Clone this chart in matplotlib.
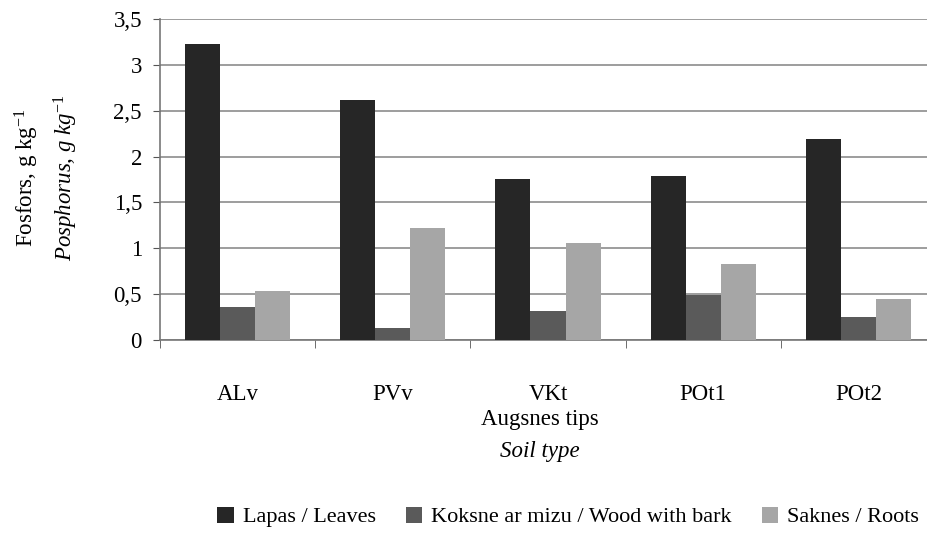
import matplotlib
matplotlib.use("Agg")
import matplotlib.pyplot as plt
import numpy as np

categories = ["ALv", "PVv", "VKt", "POt1", "POt2"]
series_names = ["Lapas / Leaves", "Koksne ar mizu / Wood with bark", "Saknes / Roots"]
leaves = [3.23, 2.62, 1.76, 1.79, 2.19]
wood = [0.36, 0.13, 0.32, 0.49, 0.25]
roots = [0.53, 1.22, 1.06, 0.83, 0.45]
yticks = [0, 0.5, 1, 1.5, 2, 2.5, 3, 3.5]
ytick_labels = ["0", "0,5", "1", "1,5", "2", "2,5", "3", "3,5"]
colors = ["#262626", "#5a5a5a", "#a6a6a6"]

plt.rcParams['font.family'] = ['Liberation Serif', 'DejaVu Serif']
plt.rcParams['mathtext.fontset'] = 'custom'
plt.rcParams['mathtext.rm'] = 'Liberation Serif'
plt.rcParams['mathtext.it'] = 'Liberation Serif:italic'

FS = 16.5

fig = plt.figure(figsize=(9.28, 5.35), dpi=100)
ax = fig.add_axes([160/928, 195/535, 776/928, 321/535])

x = np.arange(len(categories))
w = 0.226
for i, (vals, name) in enumerate(zip([leaves, wood, roots], series_names)):
    ax.bar(x + (i - 1) * w, vals, width=w, color=colors[i], label=name, zorder=3)

ax.set_xlim(-0.5, len(categories) - 0.5)
ax.set_ylim(0, 3.5)
ax.set_yticks(yticks)
ax.set_yticklabels(ytick_labels, fontsize=FS)
ax.yaxis.grid(True, color="#8c8c8c", linewidth=1.2, zorder=0)
ax.set_axisbelow(True)

ax.set_xticks(x)
ax.set_xticklabels(categories, fontsize=FS)
ax.set_xticks(np.arange(-0.5, len(categories)), minor=True)
ax.tick_params(axis='x', which='major', length=0, pad=32)
ax.tick_params(axis='x', which='minor', length=6, direction='out', color="#555555")
ax.tick_params(axis='y', length=5, direction='out', color="#555555", pad=8)

for s in ["top", "right"]:
    ax.spines[s].set_visible(False)
for s in ["left", "bottom"]:
    ax.spines[s].set_color("#777777")
    ax.spines[s].set_linewidth(1.2)

fig.text(540/928, 1 - 420/535, "Augsnes tips", ha="center", va="center", fontsize=FS)
fig.text(540/928, 1 - 452/535, "Soil type", ha="center", va="center", fontsize=FS, style="italic")

fig.text(27/928, 1 - 178/535, "Fosfors, g kg$^{-1}$", rotation=90, ha="center", va="center", fontsize=FS)
fig.text(66/928, 1 - 178/535, "Posphorus, $\\mathit{g\\ kg}^{-1}$", rotation=90, ha="center", va="center",
         fontsize=FS, style="italic")

handles, labels = ax.get_legend_handles_labels()
fig.legend(handles, labels, loc="center", bbox_to_anchor=(568/928, 1 - 517/535), ncol=3,
           frameon=False, fontsize=16, handlelength=0.75, handleheight=0.75, handletextpad=0.4,
           columnspacing=1.35, borderpad=0.1)

fig.savefig("out.png", dpi=100)
